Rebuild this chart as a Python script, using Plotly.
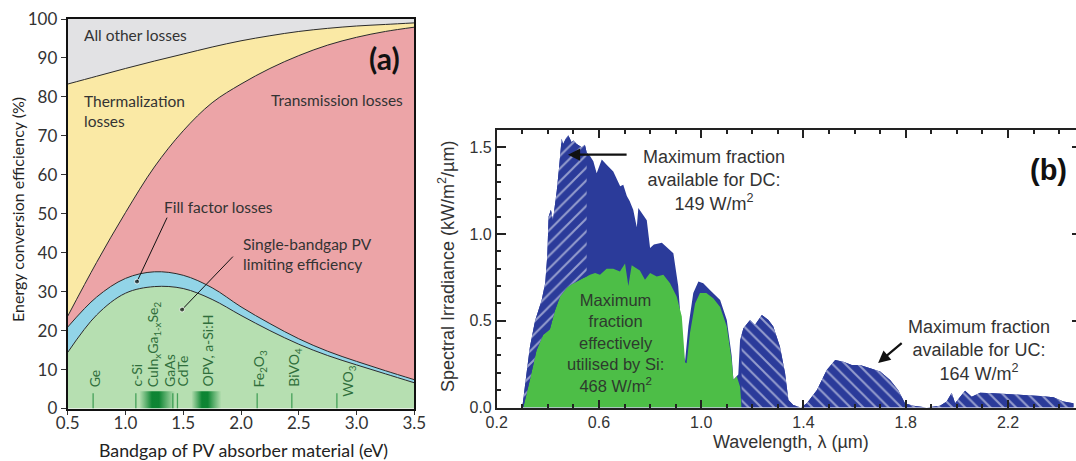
import plotly.graph_objects as go

W, H = 1076, 461
FONT_A = "Lato"
FONT_B = "Liberation Sans"

# ---------------- panel (a): efficiency / loss breakdown vs bandgap ----------------
bandgap_ev = [0.5, 0.75, 1.0, 1.25, 1.5, 1.75, 2.0, 2.25, 2.5, 2.75, 3.0, 3.25, 3.5]
sq_limit = [14.4, 24.0, 29.6, 31.3, 30.8, 28.0, 23.9, 20.0, 16.5, 13.6, 11.2, 8.9, 6.6]
plus_fill_factor = [20.9, 28.6, 33.4, 35.1, 34.2, 31.0, 26.1, 21.8, 17.9, 14.7, 12.1, 9.7, 7.4]
plus_transmission = [23.7, 37.5, 50.3, 62.0, 71.3, 78.5, 83.3, 87.3, 90.6, 93.3, 95.3, 96.8, 97.9]
plus_thermalization = [83.3, 85.3, 87.3, 89.2, 91.0, 92.8, 94.4, 95.7, 96.8, 97.6, 98.2, 98.6, 99.0]

layer_colors = ["#b6dfb1", "#92d4e7", "#eca4a7", "#fae9a5"]
layer_tops = [sq_limit, plus_fill_factor, plus_transmission, plus_thermalization]

# absorber materials: bandgap marker positions and label positions
material_names = ["Ge", "c-Si", "CuIn<sub>x</sub>Ga<sub>1-x</sub>Se<sub>2</sub>", "GaAs", "CdTe",
                  "OPV, a-Si:H", "Fe<sub>2</sub>O<sub>3</sub>", "BiVO<sub>4</sub>", "WO<sub>3</sub>"]
material_label_ev = [0.73, 1.10, 1.24, 1.38, 1.49, 1.71, 2.16, 2.46, 2.93]
material_label_base = [5.0, 5.0, 5.0, 5.0, 5.0, 5.0, 5.0, 5.0, 2.6]
marker_line_ev = [0.72, 1.09, 1.41, 1.45, 2.14, 2.44, 2.83]
marker_line_top = 3.9
band_ranges = [(1.12, 1.43), (1.57, 1.83)]
band_top = 4.4

# ---------------- panel (b): AM1.5 spectral irradiance ----------------
spec_wl = [0.300, 0.317, 0.330, 0.350, 0.363, 0.376, 0.390, 0.398, 0.403, 0.412, 0.420, 0.435,
           0.445, 0.454, 0.460, 0.470, 0.480, 0.493, 0.500, 0.513, 0.533, 0.545, 0.552, 0.565,
           0.578, 0.591, 0.611, 0.630, 0.656, 0.683, 0.695, 0.709, 0.720, 0.734, 0.748, 0.754,
           0.787, 0.800, 0.815, 0.846, 0.891, 0.910, 0.930, 0.937, 0.950, 0.969, 0.989, 1.008,
           1.034, 1.074, 1.100, 1.119, 1.126, 1.145, 1.152, 1.158, 1.165, 1.191, 1.210, 1.237,
           1.263, 1.282, 1.308, 1.328, 1.341, 1.360, 1.390, 1.413, 1.452, 1.491, 1.524, 1.556,
           1.589, 1.621, 1.661, 1.700, 1.739, 1.771, 1.797, 1.830, 1.882, 1.934, 1.960, 1.980,
           1.993, 2.013, 2.032, 2.058, 2.091, 2.143, 2.195, 2.260, 2.326, 2.378, 2.417, 2.456]
spec_irr = [0.0, 0.20, 0.35, 0.50, 0.56, 0.62, 0.72, 0.88, 1.10, 1.14, 1.08, 1.25,
            1.40, 1.55, 1.52, 1.55, 1.57, 1.53, 1.54, 1.52, 1.50, 1.515, 1.47, 1.45,
            1.42, 1.35, 1.43, 1.40, 1.36, 1.275, 1.285, 1.22, 1.19, 1.14, 1.04, 1.15,
            1.08, 0.92, 0.94, 0.95, 0.89, 0.70, 0.30, 0.27, 0.47, 0.66, 0.726, 0.717,
            0.678, 0.62, 0.505, 0.30, 0.16, 0.19, 0.39, 0.42, 0.457, 0.505, 0.476, 0.534,
            0.505, 0.467, 0.35, 0.197, 0.043, 0.014, 0.0, 0.024, 0.10, 0.216, 0.274, 0.264,
            0.245, 0.245, 0.226, 0.207, 0.159, 0.10, 0.024, 0.01, 0.0, 0.01, 0.034, 0.085,
            0.024, 0.062, 0.097, 0.062, 0.085, 0.082, 0.078, 0.072, 0.066, 0.059, 0.034, 0.024]

si_wl = [0.304, 0.330, 0.356, 0.382, 0.408, 0.428, 0.448, 0.474, 0.493, 0.539, 0.552, 0.565,
         0.585, 0.604, 0.630, 0.656, 0.682, 0.702, 0.715, 0.728, 0.760, 0.780, 0.800, 0.826,
         0.852, 0.878, 0.904, 0.924, 0.937, 0.943, 0.956, 0.976, 0.995, 1.020, 1.047, 1.074,
         1.100, 1.119, 1.126, 1.139, 1.152, 1.158]
si_irr = [0.0, 0.16, 0.33, 0.42, 0.45, 0.56, 0.64, 0.69, 0.71, 0.746, 0.755, 0.765,
          0.775, 0.765, 0.80, 0.80, 0.784, 0.83, 0.70, 0.82, 0.79, 0.736, 0.775, 0.755,
          0.765, 0.717, 0.64, 0.524, 0.26, 0.255, 0.43, 0.60, 0.66, 0.66, 0.63, 0.58,
          0.467, 0.274, 0.16, 0.18, 0.12, 0.0]

dc_limit_um = 0.552   # photons usable for down-conversion (E > 2 Eg)
uc_start_um = 1.158   # sub-bandgap photons usable for up-conversion

NAVY = "#2b3b9a"
SI_GREEN = "#4dbe47"

fig = go.Figure()

# background of panel (a) = "all other losses"
fig.add_shape(type="rect", xref="x domain", yref="y domain", x0=0, x1=1, y0=0, y1=1,
              fillcolor="#e2e2e4", line_width=0, layer="below")

for i, (top, col) in enumerate(zip(layer_tops, layer_colors)):
    fig.add_trace(go.Scatter(
        x=bandgap_ev, y=top, mode="lines", line=dict(color="#2a2a2a", width=1, shape="spline"),
        fill="tozeroy" if i == 0 else "tonexty", fillcolor=col, hoverinfo="skip",
        xaxis="x", yaxis="y", showlegend=False))

# bandgap marker ticks
mx, my = [], []
for e in marker_line_ev:
    mx += [e, e, None]
    my += [0, marker_line_top, None]
fig.add_trace(go.Scatter(x=mx, y=my, mode="lines", line=dict(color="#45a15a", width=1.3),
                         xaxis="x", yaxis="y", showlegend=False, hoverinfo="skip"))

# gradient bands for material families with a spread of bandgaps
for lo, hi in band_ranges:
    fig.add_trace(go.Scatter(
        x=[lo, hi], y=[band_top, band_top], mode="none", fill="tozeroy",
        fillgradient=dict(type="horizontal", colorscale=[
            [0.0, "rgba(20,140,55,0)"], [0.35, "rgba(5,128,45,0.95)"],
            [0.55, "rgba(5,128,45,0.95)"], [1.0, "rgba(20,140,55,0)"]]),
        xaxis="x", yaxis="y", showlegend=False, hoverinfo="skip"))

# pointer lines with dots
pointer_from = [(1.36, 49.0), (1.93, 39.0)]
pointer_to = [(1.10, 32.6), (1.49, 25.4)]
for (x0, y0), (x1, y1) in zip(pointer_from, pointer_to):
    fig.add_trace(go.Scatter(x=[x0, x1], y=[y0, y1], mode="lines+markers",
                             line=dict(color="#111", width=1),
                             marker=dict(size=[0, 5], color="#111"),
                             xaxis="x", yaxis="y", showlegend=False, hoverinfo="skip"))

# ---------------- panel (b) traces ----------------
fig.add_trace(go.Scatter(x=spec_wl, y=spec_irr, mode="none", fill="tozeroy", fillcolor=NAVY,
                         xaxis="x2", yaxis="y2", showlegend=False, hoverinfo="skip"))
fig.add_trace(go.Scatter(x=si_wl, y=si_irr, mode="none", fill="tozeroy", fillcolor=SI_GREEN,
                         xaxis="x2", yaxis="y2", showlegend=False, hoverinfo="skip"))

# down-conversion region: between the Si-usable curve and the full spectrum
dc_top = [(w, v) for w, v in zip(spec_wl, spec_irr) if w <= dc_limit_um]
dc_bot = [(w, v) for w, v in zip(si_wl, si_irr) if w <= dc_limit_um][::-1]
dc_poly = dc_top + dc_bot
fig.add_trace(go.Scatter(
    x=[p[0] for p in dc_poly], y=[p[1] for p in dc_poly], mode="none", fill="toself",
    fillcolor=NAVY,
    fillpattern=dict(shape="/", bgcolor=NAVY, fgcolor="white", size=9, solidity=0.22),
    xaxis="x2", yaxis="y2", showlegend=False, hoverinfo="skip"))

# up-conversion region: sub-bandgap part of the spectrum
uc = [(w, v) for w, v in zip(spec_wl, spec_irr) if w >= uc_start_um]
fig.add_trace(go.Scatter(
    x=[p[0] for p in uc], y=[p[1] for p in uc], mode="none", fill="tozeroy",
    fillcolor=NAVY,
    fillpattern=dict(shape="\\", bgcolor=NAVY, fgcolor="white", size=9, solidity=0.22),
    xaxis="x2", yaxis="y2", showlegend=False, hoverinfo="skip"))

# carrier for the right-hand tick marks of panel (b)
fig.add_trace(go.Scatter(x=[None], y=[None], mode="none", xaxis="x2", yaxis="y3",
                         showlegend=False, hoverinfo="skip"))


def px(xp):
    return xp / W


def py(yp):
    return 1 - yp / H


ann = []
txt_a = dict(family=FONT_A, size=15.5, color="#333333")
ann += [
    dict(x=0.62, y=95.9, text="All other losses", xanchor="left", font=txt_a),
    dict(x=0.62, y=76.5, text="Thermalization<br>losses", xanchor="left", align="left", font=txt_a),
    dict(x=3.42, y=79.2, text="Transmission losses", xanchor="right", font=txt_a),
    dict(x=1.32, y=51.8, text="Fill factor losses", xanchor="left", font=txt_a),
    dict(x=2.0, y=39.6, text="Single-bandgap PV<br>limiting efficiency", xanchor="left",
         align="left", font=txt_a),
    dict(x=3.24, y=90.0, text="<b>(a)</b>", xanchor="center",
         font=dict(family=FONT_A, size=30, color="#111")),
]
for a in ann:
    a.update(xref="x", yref="y", showarrow=False, yanchor="middle")

for name, xe, yb in zip(material_names, material_label_ev, material_label_base):
    ann.append(dict(x=xe, y=yb, xref="x", yref="y", text=name, textangle=-90, showarrow=False,
                    xanchor="center", yanchor="bottom",
                    font=dict(family=FONT_A, size=14, color="#2f6e3b")))

# axis titles
titles = [
    dict(x=px(17), y=py(210), text="Energy conversion efficiency (%)", textangle=-90,
         font=dict(family=FONT_A, size=16, color="#222")),
    dict(x=px(243), y=py(450), text="Bandgap of PV absorber material (eV)",
         font=dict(family=FONT_A, size=17.8, color="#222")),
    dict(x=px(446), y=py(267), text="Spectral Irradiance (kW/m<sup>2</sup>/\u00b5m)",
         textangle=-90, font=dict(family=FONT_B, size=18, color="#333")),
    dict(x=px(791), y=py(442), text="Wavelength, \u03bb (\u00b5m)",
         font=dict(family=FONT_B, size=18, color="#333")),
]
for t in titles:
    t.update(xref="paper", yref="paper", showarrow=False, xanchor="center", yanchor="middle")
ann += titles

txt_b = dict(family=FONT_B, size=18, color="#333333")
ann += [
    dict(x=1.05, y=1.31, xref="x2", yref="y2", showarrow=False, xanchor="center",
         yanchor="middle",
         text="Maximum fraction<br>available for DC:<br>149 W/m<sup>2</sup>", font=txt_b),
    dict(x=2.087, y=0.33, xref="x2", yref="y2", showarrow=False, xanchor="center",
         yanchor="middle",
         text="Maximum fraction<br>available for UC:<br>164 W/m<sup>2</sup>", font=txt_b),
    dict(x=0.663, y=0.37, xref="x2", yref="y2", showarrow=False, xanchor="center",
         yanchor="middle",
         text="Maximum<br>fraction<br>effectively<br>utilised by Si:<br>468 W/m<sup>2</sup>",
         font=dict(family=FONT_B, size=16.5, color="#2e3a2e")),
    dict(x=2.357, y=1.371, xref="x2", yref="y2", showarrow=False, text="<b>(b)</b>",
         xanchor="center", yanchor="middle",
         font=dict(family=FONT_B, size=29, color="#111")),
    # arrows
    dict(x=0.479, y=1.458, ax=0.714, ay=1.458, xref="x2", yref="y2", axref="x2", ayref="y2",
         text="", showarrow=True, arrowhead=2, arrowsize=1.1, arrowwidth=2.2, arrowcolor="#111"),
    dict(x=1.692, y=0.257, ax=1.79, ay=0.378, xref="x2", yref="y2", axref="x2", ayref="y2",
         text="", showarrow=True, arrowhead=2, arrowsize=1.1, arrowwidth=2.2, arrowcolor="#111"),
]

tick_a = dict(family=FONT_A, size=17, color="#333")
tick_b = dict(family=FONT_B, size=16, color="#333")

fig.update_layout(
    width=W, height=H, margin=dict(l=0, r=0, t=0, b=0, autoexpand=False),
    paper_bgcolor="white", plot_bgcolor="rgba(0,0,0,0)",
    annotations=ann,
    xaxis=dict(domain=[px(67.7), px(414.3)], range=[0.5, 3.5], tick0=0.5, dtick=0.5,
               tickformat=".1f", ticks="outside", ticklen=4, tickcolor="#333",
               ticklabelstandoff=-6,
               showline=True, linecolor="#111", linewidth=2, mirror=True, showgrid=False,
               zeroline=False, tickfont=tick_a, anchor="y", automargin=False),
    yaxis=dict(domain=[py(408.5), py(19)], range=[0, 100], dtick=10, ticks="outside",
               ticklen=5, tickcolor="#333", showline=True, linecolor="#111", linewidth=2,
               mirror=True, showgrid=False, zeroline=False, tickfont=tick_a, anchor="x",
               automargin=False),
    xaxis2=dict(domain=[px(496.7), 1.0], range=[0.2, 2.466], tick0=0.2, dtick=0.4,
                tickformat=".1f", ticks="inside", ticklen=8, tickcolor="#222", tickwidth=1.5,
                minor=dict(dtick=0.1, tick0=0.2, ticks="inside", ticklen=4, tickcolor="#222",
                           tickwidth=1.5),
                showline=True, linecolor="#222", linewidth=1.5, mirror="ticks",
                showgrid=False, zeroline=False, tickfont=tick_b, anchor="y2", automargin=False),
    yaxis2=dict(domain=[py(407.5), py(130)], range=[0, 1.6], tick0=0, dtick=0.5,
                tickformat=".1f", ticks="inside", ticklen=10, tickcolor="#222", tickwidth=1.5,
                minor=dict(dtick=0.1, tick0=0, ticks="inside", ticklen=5, tickcolor="#222",
                           tickwidth=1.5),
                showline=True, linecolor="#222", linewidth=1.5, showgrid=False,
                zeroline=False, tickfont=tick_b, anchor="x2", automargin=False),
    yaxis3=dict(overlaying="y2", side="right", anchor="x2", range=[0, 1.6],
                tickvals=[0.5, 1.0, 1.5], ticks="inside", ticklen=4, tickcolor="#222",
                tickwidth=1.5, showticklabels=False, showline=False, showgrid=False,
                zeroline=False, automargin=False),
)

fig.write_html("out.html")
